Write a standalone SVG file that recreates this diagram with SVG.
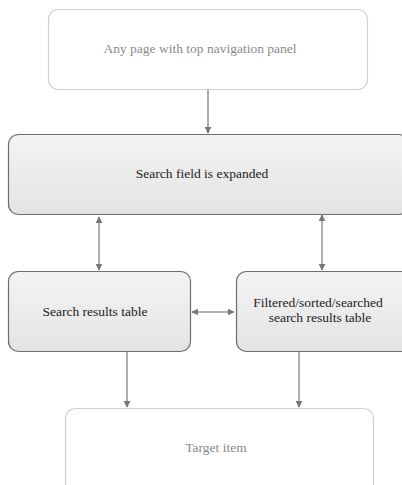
<svg xmlns="http://www.w3.org/2000/svg" width="402" height="485" viewBox="0 0 402 485">
<style>
.light rect{fill:#fff;stroke:#d0d0d0;stroke-width:1.2}
.light text{fill:#8a8a8a}
.dark rect{fill:url(#g);stroke:#6e6e6e;stroke-width:1.2}
.dark text{fill:#222}
text{font-family:"Liberation Serif","DejaVu Serif",serif;font-size:13.5px;text-anchor:middle}
.c line{stroke:#999;stroke-width:1.6}
</style>
<defs>
<linearGradient id="g" x1="0" y1="0" x2="0" y2="1"><stop offset="0" stop-color="#f4f4f4"/><stop offset="1" stop-color="#e3e3e3"/></linearGradient>
<marker id="a" viewBox="0 0 10 10" refX="9" refY="5" markerWidth="7" markerHeight="7" orient="auto-start-reverse" markerUnits="userSpaceOnUse"><path d="M0,0L10,5L0,10z" fill="#777"/></marker>
</defs>
<g id="n1" class="light"><rect x="48.5" y="9.5" width="319" height="80" rx="10"/><text x="200" y="53">Any page with top navigation panel</text></g>
<g id="n2" class="dark"><rect x="8.5" y="134.5" width="400" height="80" rx="10"/><text x="202" y="178">Search field is expanded</text></g>
<g id="n3" class="dark"><rect x="8.5" y="271.5" width="182" height="80" rx="10"/><text x="95" y="316">Search results table</text></g>
<g id="n4" class="dark"><rect x="236.5" y="271.5" width="180" height="80" rx="10"/><text x="318" y="307">Filtered/sorted/searched</text><text x="320" y="322">search results table</text></g>
<g id="n5" class="light"><rect x="65.5" y="408.5" width="308" height="90" rx="10"/><text x="216" y="452">Target item</text></g>
<g class="c">
<line x1="208" y1="90" x2="208" y2="133" marker-end="url(#a)"/>
<line x1="99" y1="217" x2="99" y2="270" marker-start="url(#a)" marker-end="url(#a)"/>
<line x1="322" y1="215" x2="322" y2="270" marker-start="url(#a)" marker-end="url(#a)"/>
<line x1="192" y1="312" x2="234" y2="312" marker-start="url(#a)" marker-end="url(#a)"/>
<line x1="127" y1="352" x2="127" y2="407" marker-end="url(#a)"/>
<line x1="299" y1="352" x2="299" y2="407" marker-end="url(#a)"/>
</g>
</svg>
